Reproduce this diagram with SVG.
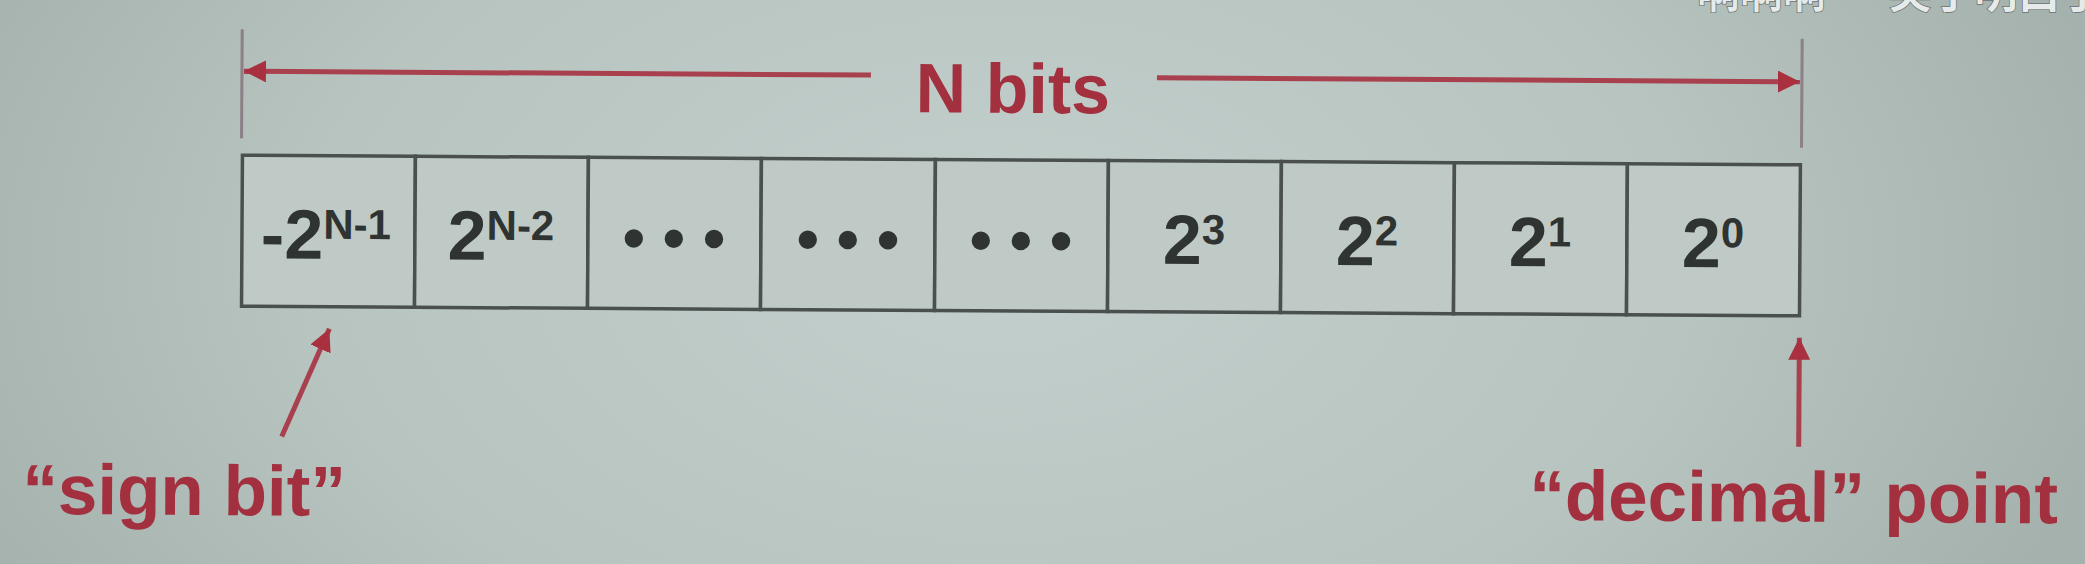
<svg xmlns="http://www.w3.org/2000/svg" width="2085" height="564" viewBox="0 0 2085 564">
<defs>
<radialGradient id="bg" cx="1000" cy="260" r="1150" gradientUnits="userSpaceOnUse" gradientTransform="translate(1000 260) scale(1 0.6) translate(-1000 -260)">
<stop offset="0" stop-color="#c3cfcc"/>
<stop offset="0.6" stop-color="#b7c4c0"/>
<stop offset="1" stop-color="#a5b1ac"/>
</radialGradient>
<marker id="ah" markerUnits="userSpaceOnUse" markerWidth="24" markerHeight="22" refX="22" refY="11" orient="auto">
<path d="M0,0 L22,11 L0,22 Z" fill="#a8303f"/>
</marker>
<style>
.cell{fill:#bfcac6;stroke:#4a504e;stroke-width:3.5}
.val{font-family:"Liberation Sans",Arial,sans-serif;font-weight:bold;font-size:70px;fill:#2f3331;text-anchor:middle}
.sup{font-size:42px}
.dots{font-family:"Liberation Sans",Arial,sans-serif;font-weight:bold;font-size:64px;fill:#2f3331;text-anchor:middle}
.red{font-family:"Liberation Sans",Arial,sans-serif;font-weight:bold;fill:#a3303f}
.arr{stroke:#a8404d;stroke-width:5;fill:none;marker-end:url(#ah)}
.tick{stroke:#8c7f87;stroke-width:3}
.wm{font-family:"Noto Sans CJK SC",sans-serif;font-weight:bold;font-size:43px;fill:#e6eaea;stroke:#6b7472;stroke-width:1.5;paint-order:stroke}
</style>
</defs>
<rect x="0" y="0" width="2085" height="564" fill="url(#bg)"/>
<g transform="rotate(0.35 1020 230)">
<g id="connectors">
<line class="tick" x1="241" y1="34" x2="241" y2="143"/>
<line class="tick" x1="1801" y1="34" x2="1801" y2="143"/>
<line class="arr" x1="870" y1="76" x2="243" y2="76"/>
<line class="arr" x1="1156" y1="77" x2="1799" y2="77"/>
<line class="arr" x1="283" y1="441" x2="330" y2="333"/>
<line class="arr" x1="1800" y1="442" x2="1800" y2="333"/>
</g>
<g id="label-nbits"><text class="red" x="1012" y="113" font-size="70" text-anchor="middle">N bits</text></g>
<g id="cell1"><rect class="cell" x="242" y="160" width="173" height="151"/><text class="val" x="326" y="263">-2<tspan class="sup" dy="-20">N-1</tspan></text></g>
<g id="cell2"><rect class="cell" x="415" y="160" width="173" height="151"/><text class="val" x="501" y="263">2<tspan class="sup" dy="-20">N-2</tspan></text></g>
<g id="cell3"><rect class="cell" x="588" y="160" width="173" height="151"/><text class="dots" x="674" y="262">• • •</text></g>
<g id="cell4"><rect class="cell" x="761" y="160" width="174" height="151"/><text class="dots" x="848" y="262">• • •</text></g>
<g id="cell5"><rect class="cell" x="935" y="160" width="173" height="151"/><text class="dots" x="1021" y="262">• • •</text></g>
<g id="cell6"><rect class="cell" x="1108" y="160" width="173" height="151"/><text class="val" x="1194" y="263">2<tspan class="sup" dy="-20">3</tspan></text></g>
<g id="cell7"><rect class="cell" x="1281" y="160" width="173" height="151"/><text class="val" x="1367" y="263">2<tspan class="sup" dy="-20">2</tspan></text></g>
<g id="cell8"><rect class="cell" x="1454" y="160" width="173" height="151"/><text class="val" x="1540" y="263">2<tspan class="sup" dy="-20">1</tspan></text></g>
<g id="cell9"><rect class="cell" x="1627" y="160" width="173" height="151"/><text class="val" x="1713" y="263">2<tspan class="sup" dy="-20">0</tspan></text></g>
<g id="label-sign"><text class="red" x="24" y="520" font-size="71">“sign bit”</text></g>
<g id="label-decimal"><text class="red" x="1531" y="517" font-size="71">“decimal”  point</text></g>
</g>
<text class="wm" x="1697" y="8">啊啊啊 · 笑了明白了</text>
</svg>
